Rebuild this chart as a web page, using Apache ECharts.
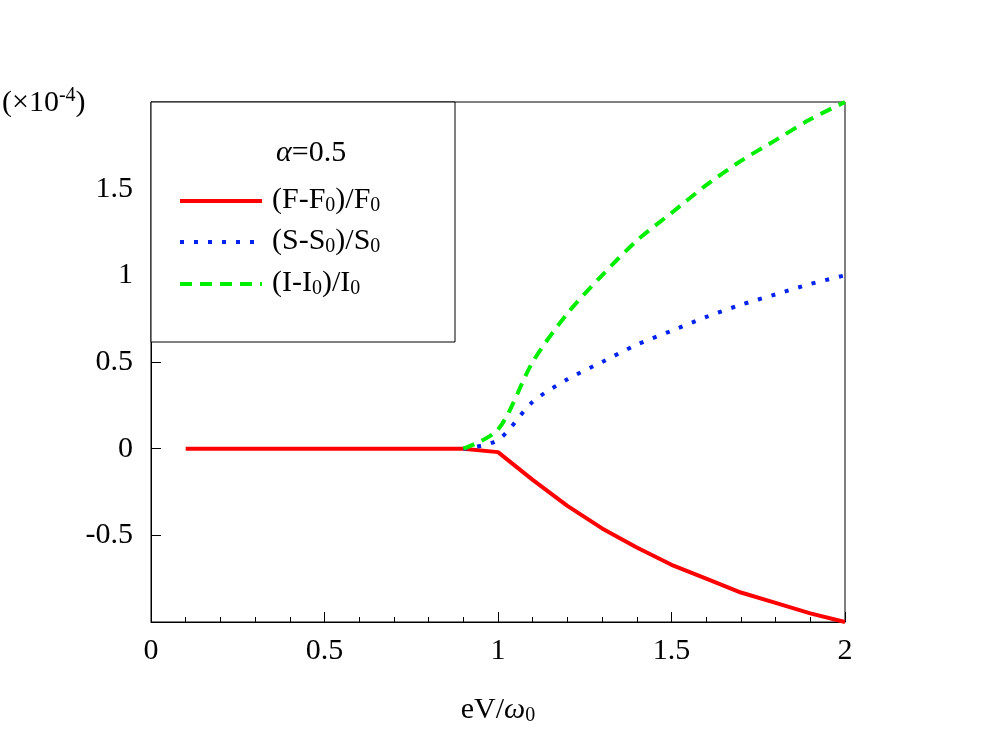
<!DOCTYPE html><html><head><meta charset="utf-8">
<script src="https://cdn.jsdelivr.net/npm/echarts@6/dist/echarts.min.js"></script>
<style>body{margin:0}#c{width:997px;height:749px}</style></head><body><div id="c"></div><script>
const xs=[0.1,0.2,0.3,0.4,0.5,0.6,0.7,0.8,0.9,1.0,1.1,1.2,1.3,1.4,1.5,1.6,1.7,1.8,1.9,2.0];
const F=[0,0,0,0,0,0,0,0,0,-0.02,-0.18,-0.33,-0.46,-0.57,-0.67,-0.75,-0.83,-0.89,-0.95,-1.0];
const S=[null,null,null,null,null,null,null,null,0,0.05,0.27,0.4,0.5,0.6,0.68,0.76,0.83,0.89,0.95,1.0];
const I=[null,null,null,null,null,null,null,null,0,0.11,0.5,0.78,1.0,1.2,1.36,1.52,1.66,1.78,1.9,2.0];
const yTicks=[-0.5,0,0.5,1,1.5];
const pair=a=>xs.map((x,i)=>[x,a[i]]).filter(p=>p[1]!==null);
const ch=echarts.init(document.getElementById('c'));
const font='Liberation Serif';
const lab={fontFamily:font,fontSize:30,color:'#000'};
const sub=Object.assign({},lab,{fontSize:20,padding:[12,0,0,0]});
ch.setOption({
 animation:false,
 grid:{left:151,right:152,top:102,bottom:127,show:true,borderColor:'#000',borderWidth:1},
 xAxis:{type:'value',min:0,max:2,interval:0.5,axisLine:{onZero:false,lineStyle:{color:'#000'}},
  axisTick:{inside:true,length:10,lineStyle:{color:'#000'}},minorTick:{show:true,splitNumber:5,length:5,lineStyle:{color:'#000'}},
  splitLine:{show:false},axisLabel:Object.assign({margin:14,formatter:v=>String(v)},lab),
  name:'{n|eV/}{w|ω}{s|0}',nameLocation:'middle',nameGap:72,
  nameTextStyle:{rich:{n:lab,w:Object.assign({},lab,{fontStyle:'italic'}),s:sub}}},
 yAxis:{type:'value',min:-1,max:2,interval:0.5,axisLine:{onZero:false,lineStyle:{color:'#000'}},
  axisTick:{inside:true,length:10,lineStyle:{color:'#000'}},
  splitLine:{show:false},axisLabel:Object.assign({margin:18,formatter:v=>yTicks.includes(v)?String(v):''},lab)},
 series:[
  {type:'line',data:pair(F),showSymbol:false,lineStyle:{color:'#ff0000',width:4},z:3},
  {type:'line',data:pair(S),showSymbol:false,smooth:0.3,lineStyle:{color:'#0022ee',width:4,type:[4,10]}},
  {type:'line',data:pair(I),showSymbol:false,smooth:0.3,lineStyle:{color:'#00ee00',width:4,type:[12,8]}}
 ],
 graphic:[
  {type:'text',left:2,top:86,style:{text:'(×10{s|-4})',font:'30px Liberation Serif',fill:'#000',rich:{s:{fontFamily:font,fontSize:20,padding:[0,0,14,0]}}}},
  {type:'rect',shape:{x:151,y:102,width:304,height:240},style:{fill:'#fff',stroke:'#000',lineWidth:1},z:10},
  {type:'text',x:276,y:138,z:11,style:{text:'{a|α}=0.5',font:'30px Liberation Serif',fill:'#000',rich:{a:{fontFamily:font,fontSize:30,fontStyle:'italic'}}}},
  {type:'line',z:11,shape:{x1:180,y1:201,x2:262,y2:201},style:{stroke:'#ff0000',lineWidth:4}},
  {type:'line',z:11,shape:{x1:180,y1:242,x2:262,y2:242},style:{stroke:'#0022ee',lineWidth:4,lineDash:[4,10]}},
  {type:'line',z:11,shape:{x1:180,y1:284,x2:262,y2:284},style:{stroke:'#00ee00',lineWidth:4,lineDash:[12,8]}},
  {type:'text',x:272,y:184,z:11,style:{text:'(F-F{s|0})/F{s|0}',font:'30px Liberation Serif',fill:'#000',rich:{s:sub}}},
  {type:'text',x:272,y:225,z:11,style:{text:'(S-S{s|0})/S{s|0}',font:'30px Liberation Serif',fill:'#000',rich:{s:sub}}},
  {type:'text',x:272,y:267,z:11,style:{text:'(I-I{s|0})/I{s|0}',font:'30px Liberation Serif',fill:'#000',rich:{s:sub}}}
 ]
});
</script></body></html>
